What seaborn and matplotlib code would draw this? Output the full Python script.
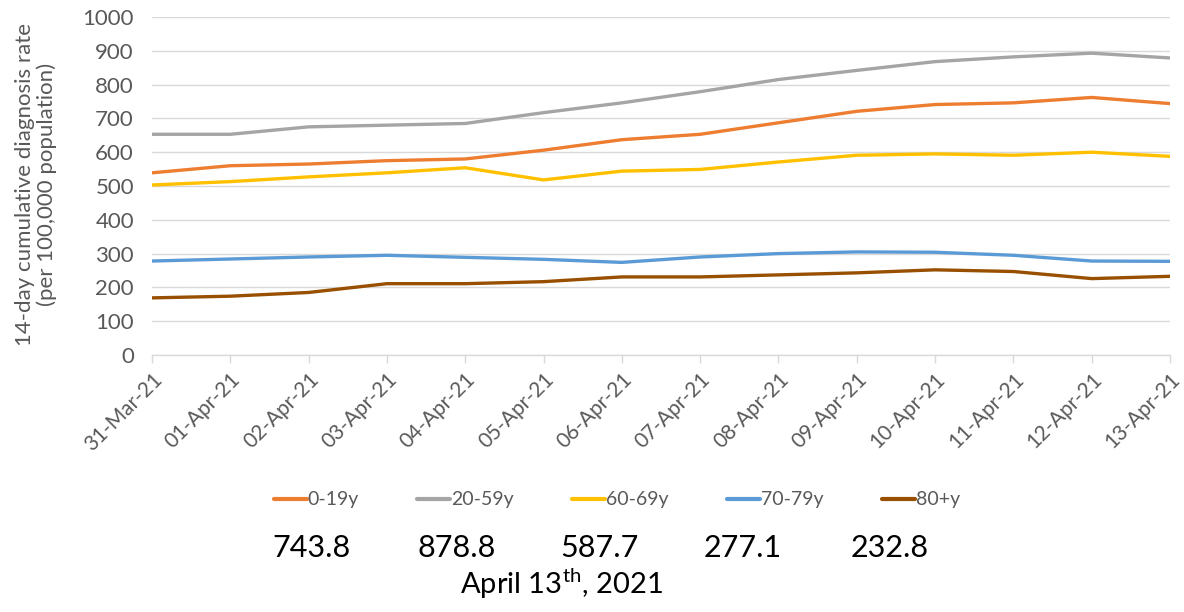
import numpy as np
import pandas as pd
import matplotlib
matplotlib.use("Agg")
import matplotlib.pyplot as plt
import seaborn as sns

# Veriler
dates = ["31-Mar-21", "01-Apr-21", "02-Apr-21", "03-Apr-21", "04-Apr-21", "05-Apr-21",
         "06-Apr-21", "07-Apr-21", "08-Apr-21", "09-Apr-21", "10-Apr-21", "11-Apr-21",
         "12-Apr-21", "13-Apr-21"]
groups = ["0-19y", "20-59y", "60-69y", "70-79y", "80+y"]
age_0_19 = [539, 560, 565, 575, 580, 606, 637, 653, 687, 721, 741, 746, 762, 743.8]
age_20_59 = [653, 653, 675, 680, 685, 717, 746, 779, 815, 842, 868, 882, 893, 878.8]
age_60_69 = [503, 513, 527, 539, 554, 518, 544, 549, 571, 591, 595, 591, 600, 587.7]
age_70_79 = [278, 284, 290, 295, 289, 283, 274, 290, 300, 305, 304, 295, 278, 277.1]
age_80_plus = [169, 174, 185, 211, 211, 217, 231, 231, 237, 243, 252, 247, 226, 232.8]
colors = ["#ED7D31", "#A5A5A5", "#FFC000", "#5B9BD5", "#985000"]

series = [age_0_19, age_20_59, age_60_69, age_70_79, age_80_plus]
df = pd.concat([
    pd.DataFrame({"idx": np.arange(len(dates)), "value": vals, "group": g})
    for g, vals in zip(groups, series)
])

sns.set_theme(style="white")
plt.rcParams["font.family"] = ["Lato", "DejaVu Sans"]
plt.rcParams["mathtext.fontset"] = "custom"
plt.rcParams["mathtext.rm"] = "Lato"

fig = plt.figure(figsize=(11.84, 6.12), dpi=100)
ax = fig.add_axes([152 / 1184, 1 - 355 / 612, (1170 - 152) / 1184, (355 - 17) / 612])

sns.lineplot(data=df, x="idx", y="value", hue="group", palette=colors,
             linewidth=2.4, ax=ax, legend=False)

ax.set_xlim(0, len(dates) - 1)
ax.set_ylim(0, 1000)
ax.set_yticks(np.arange(0, 1001, 100))
ax.set_xticks(np.arange(len(dates)))
ax.set_xticklabels(dates, rotation=45, ha="right", rotation_mode="anchor")
ax.set_xlabel("")
ax.set_ylabel("")
ax.grid(axis="y", color="#D9D9D9", linewidth=1)
ax.grid(axis="x", visible=False)
for s in ["left", "right", "top"]:
    ax.spines[s].set_visible(False)
ax.spines["bottom"].set_color("#D9D9D9")
ax.spines["bottom"].set_linewidth(1)
ax.tick_params(axis="y", length=0, pad=13, labelsize=16, labelcolor="#595959")
ax.tick_params(axis="x", bottom=True, length=6, width=1, color="#D9D9D9",
               pad=4, labelsize=15, labelcolor="#595959")

fig.text(36 / 1184, 1 - 184 / 612,
         "14-day cumulative diagnosis rate\n(per 100,000 population)",
         rotation=90, ha="center", va="center", fontsize=16, color="#595959",
         linespacing=1.1)

# Lejant
handles = [plt.Line2D([], [], color=c, linewidth=3) for c in colors]
fig.legend(handles, groups, loc="center", bbox_to_anchor=(617 / 1184, 1 - 500 / 612),
           ncol=5, frameon=False, fontsize=14, labelcolor="#595959",
           handlelength=1.7, handletextpad=0.05, columnspacing=3.0)

# Son gün değerleri
value_x = [312, 457, 600, 743, 890]
for x, vals in zip(value_x, series):
    fig.text(x / 1184, 1 - 548 / 612, f"{vals[-1]:.1f}", ha="center", va="center",
             fontsize=22, color="black")
fig.text(562 / 1184, 1 - 584 / 612, r"April 13$^{\mathrm{th}}$, 2021",
         ha="center", va="center", fontsize=21, color="black")

fig.savefig("out.png", dpi=100)
